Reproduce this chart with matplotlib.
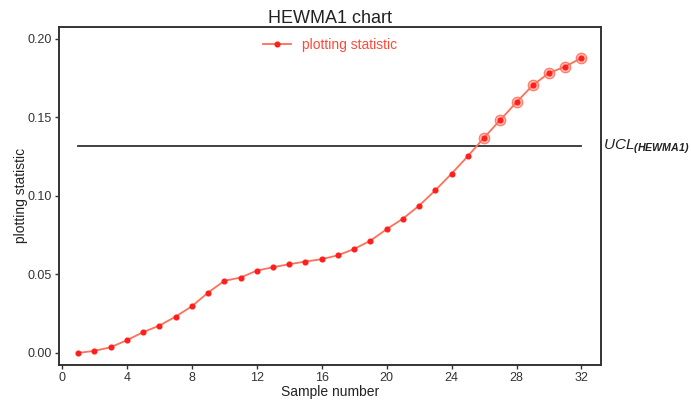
import matplotlib
matplotlib.use("Agg")
import matplotlib.pyplot as plt
import numpy as np

plt.rcParams['font.family'] = ['Liberation Sans', 'DejaVu Sans']
plt.rcParams['mathtext.fontset'] = 'custom'
plt.rcParams['mathtext.it'] = 'Liberation Sans:italic'
plt.rcParams['mathtext.rm'] = 'Liberation Sans'
plt.rcParams['mathtext.bf'] = 'Liberation Sans:italic:bold'

samples = list(range(1, 33))
stat = [0.0000, 0.0013, 0.0036, 0.0081, 0.0132, 0.0174, 0.0231, 0.0297,
        0.0384, 0.0459, 0.0480, 0.0524, 0.0546, 0.0565, 0.0582, 0.0597,
        0.0622, 0.0662, 0.0715, 0.0788, 0.0855, 0.0938, 0.1036, 0.1142,
        0.1253, 0.1371, 0.1484, 0.1597, 0.1705, 0.1783, 0.1824, 0.1879]
ucl = 0.1318
x_ticks = [0, 4, 8, 12, 16, 20, 24, 28, 32]
y_ticks = [0.00, 0.05, 0.10, 0.15, 0.20]

fig = plt.figure(figsize=(6.91, 4.0), dpi=100)
ax = fig.add_axes([0.0854, 0.0883, 0.7843, 0.845])

line_col = '#FF7058'
dot_col = '#FF1E1E'

ax.plot([samples[0], samples[-1]], [ucl, ucl], color='#333333', lw=1.3, zorder=2)

out_x = [s for s, v in zip(samples, stat) if v > ucl]
out_y = [v for v in stat if v > ucl]
ax.scatter(out_x, out_y, s=55, facecolor='#FFC4B8', edgecolor='#FF8070',
           linewidth=1.0, zorder=3)
ax.plot(samples, stat, color=line_col, lw=1.3, marker='o', markersize=3.4,
        markerfacecolor=dot_col, markeredgecolor=dot_col, zorder=4,
        label='plotting statistic')

ax.set_xlim(-0.18, 33.2)
ax.set_ylim(-0.0075, 0.2078)
ax.set_xticks(x_ticks)
ax.set_yticks(y_ticks)
ax.set_yticklabels([f'{v:.2f}' for v in y_ticks])
ax.tick_params(direction='out', length=3, width=1, colors='#333333',
               labelsize=9, labelcolor='#333333', pad=2)
for sp in ax.spines.values():
    sp.set_color('#333333')
    sp.set_linewidth(1.4)

ax.set_xlabel('Sample number', fontsize=10, color='#222222', labelpad=1)
ax.set_ylabel('plotting statistic', fontsize=10, color='#222222', labelpad=0)
ax.set_title('HEWMA1 chart', fontsize=13, color='#222222', pad=1)

leg = ax.legend(loc='upper center', bbox_to_anchor=(0.5, 1.0), frameon=False,
                fontsize=10, handlelength=2.0, borderaxespad=0.4)
for t in leg.get_texts():
    t.set_color('#FF4A3A')

fig.text(0.873, 0.633, r'$UCL_{\mathbf{(HEWMA1)}}$', fontsize=11, color='#222222',
         va='center', ha='left')

fig.savefig('out.png', dpi=100)
